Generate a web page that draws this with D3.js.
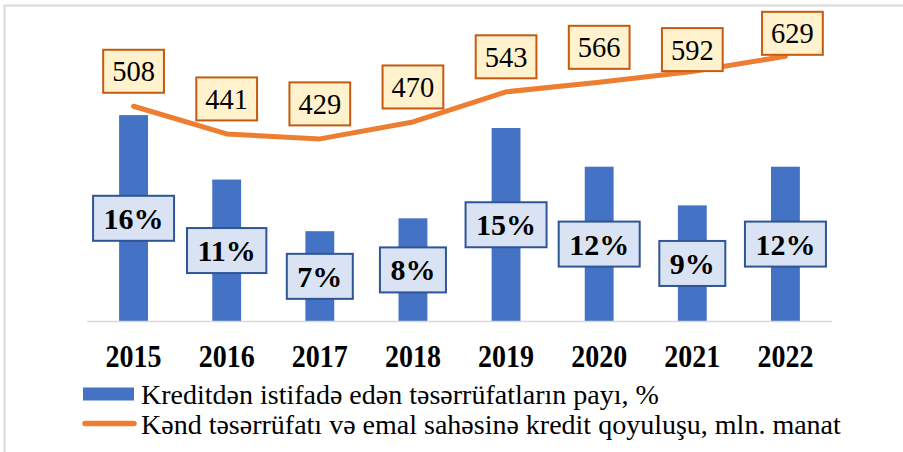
<!DOCTYPE html>
<html lang="az">
<head>
  <meta charset="UTF-8">
  <title>Kredit qoyuluşu</title>
  <style>
    body { margin: 0; background: #fff; }
    svg { display: block; }
    .bar { fill: #4472c4; }
    .credit-line { fill: none; stroke: #ed7d31; stroke-width: 5; stroke-linejoin: round; stroke-linecap: round; }
    .x.axis path { stroke: #d9d9d9; stroke-width: 1.5; }
    .share-label rect { fill: #dae3f3; stroke: #2f5597; stroke-width: 2; }
    .credit-label rect { fill: #fff2cc; stroke: #c55a11; stroke-width: 2; }
  </style>
</head>
<body>
  <script src="https://cdn.jsdelivr.net/npm/d3@7"></script>
  <script>
    // data
    const years = ['2015', '2016', '2017', '2018', '2019', '2020', '2021', '2022'];
    const sharePct = [16, 11, 7, 8, 15, 12, 9, 12];
    const creditMln = [508, 441, 429, 470, 543, 566, 592, 629];
    const legendLabels = [
      'Kreditdən istifadə edən təsərrüfatların payı, %',
      'Kənd təsərrüfatı və emal sahəsinə kredit qoyuluşu, mln. manat'
    ];

    const WIDTH = 903;
    const HEIGHT = 452;
    const FONT = '"Liberation Serif"';
    const plot = {left: 87, right: 832, bottom: 321.5};

    // labels of the last two points were moved by hand in the original
    const creditLabelNudge = {'2021': [0, 13], '2022': [7, 12]};

    const svg = d3.select('body').append('svg')
      .attr('width', WIDTH)
      .attr('height', HEIGHT)
      .attr('viewBox', `0 0 ${WIDTH} ${HEIGHT}`);

    // chart frame (only top and left edges are visible)
    svg.append('path')
      .attr('d', `M4.5,${HEIGHT} V5.5 H${WIDTH}`)
      .attr('fill', 'none')
      .attr('stroke', '#d9d9d9')
      .attr('stroke-width', 2);

    const x = d3.scaleBand().domain(years)
      .range([plot.left, plot.right])
      .paddingInner(0.69)
      .paddingOuter(0.345);
    const y = d3.scaleLinear().domain([0, 20]).range([plot.bottom, plot.bottom - 258]);
    const y2 = d3.scaleLinear().domain([0, 700]).range([316, 27]);

    const rows = years.map((yr, i) => ({year: yr, share: sharePct[i], credit: creditMln[i]}));
    const cx = d => x(d.year) + x.bandwidth() / 2;

    // bars
    svg.append('g').selectAll('rect')
      .data(rows)
      .join('rect')
        .attr('class', 'bar')
        .attr('x', d => x(d.year))
        .attr('y', d => y(d.share))
        .attr('width', x.bandwidth())
        .attr('height', d => y(0) - y(d.share));

    // x axis, year labels are a bit taller than normal in the original
    const xAxis = d3.axisBottom(x).tickSize(0);
    const gx = svg.append('g')
      .attr('class', 'x axis')
      .attr('transform', `translate(0,${plot.bottom})`)
      .call(xAxis);
    gx.select('.domain').attr('d', `M${plot.left},0H${plot.right}`);
    gx.selectAll('text')
      .attr('y', 40.4)
      .attr('dy', 0)
      .attr('transform', 'scale(1,1.12)')
      .attr('fill', '#000')
      .style('font-family', FONT)
      .style('font-size', '28px')
      .style('font-weight', 'bold');

    // credit line
    const line = d3.line().x(cx).y(d => y2(d.credit));
    svg.append('path')
      .datum(rows)
      .attr('class', 'credit-line')
      .attr('d', line);

    // boxed label helper
    function boxLabel (g, text, size, padX, h, weight) {
      const t = g.append('text')
        .attr('text-anchor', 'middle')
        .attr('dy', '0.35em')
        .style('font-family', FONT)
        .style('font-size', size + 'px')
        .style('font-weight', weight)
        .text(text);
      const w = t.node().getComputedTextLength() + padX * 2;
      g.insert('rect', 'text')
        .attr('x', -w / 2)
        .attr('y', -h / 2)
        .attr('width', w)
        .attr('height', h);
    }

    // share labels in the middle of each bar
    svg.append('g').selectAll('g')
      .data(rows)
      .join('g')
        .attr('class', 'share-label')
        .attr('transform', d => `translate(${cx(d)},${(y(d.share) + y(0)) / 2})`)
        .each(function (d) { boxLabel(d3.select(this), d.share + '%', 30, 10.5, 45, 'bold'); });

    // credit labels above the line
    svg.append('g').selectAll('g')
      .data(rows)
      .join('g')
        .attr('class', 'credit-label')
        .attr('transform', d => {
          const n = creditLabelNudge[d.year] || [0, 0];
          return `translate(${cx(d) + n[0]},${y2(d.credit) - 35 + n[1]})`;
        })
        .each(function (d) { boxLabel(d3.select(this), d.credit, 28.5, 9, 43, 'normal'); });

    // legend
    const legend = svg.append('g').attr('class', 'legend');
    legend.append('rect')
      .attr('x', 83).attr('y', 387.5)
      .attr('width', 51).attr('height', 13)
      .attr('fill', '#4472c4');
    legend.append('line')
      .attr('x1', 85).attr('x2', 134)
      .attr('y1', 423.5).attr('y2', 423.5)
      .attr('stroke', '#ed7d31')
      .attr('stroke-width', 5.5)
      .attr('stroke-linecap', 'round');
    legend.selectAll('text')
      .data(legendLabels)
      .join('text')
        .attr('x', 141)
        .attr('y', (d, i) => 404.3 + i * 30)
        .attr('fill', '#000')
        .style('font-family', FONT)
        .style('font-size', '28px')
        .text(d => d);
  </script>
</body>
</html>
